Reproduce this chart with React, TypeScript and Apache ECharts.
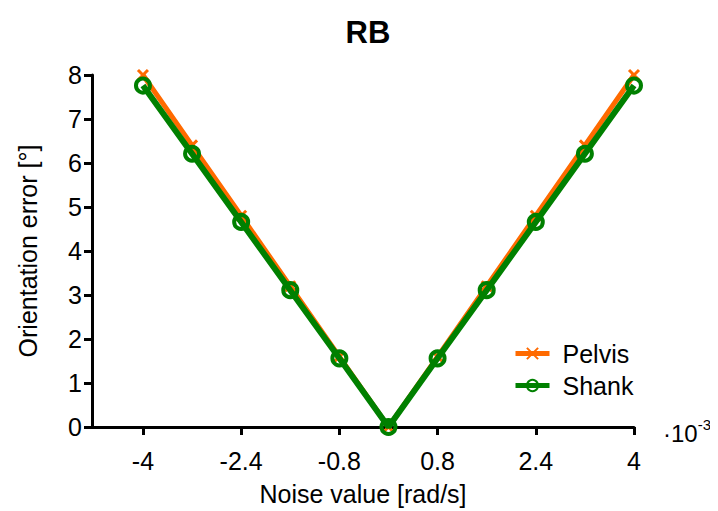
import React, { useEffect, useRef } from "react";
import * as echarts from "echarts";

const noiseValues = [-4, -3.2, -2.4, -1.6, -0.8, 0, 0.8, 1.6, 2.4, 3.2, 4];
const pelvisError = [8.0, 6.4, 4.8, 3.2, 1.6, 0, 1.6, 3.2, 4.8, 6.4, 8.0];
const shankError = [7.76, 6.21, 4.66, 3.11, 1.56, 0, 1.56, 3.11, 4.66, 6.21, 7.76];
const xTickValues = [-4, -2.4, -0.8, 0.8, 2.4, 4];

const ORANGE = "#FF6A00";
const GREEN = "#008000";
const FONT = "Liberation Sans";
const FS = 25;

export default function App() {
  const ref = useRef<HTMLDivElement>(null);
  useEffect(() => {
    if (!ref.current) return;
    const chart = echarts.init(ref.current, undefined, { renderer: "svg" });
    chart.setOption({
      animation: false,
      backgroundColor: "#fff",
      title: {
        text: "RB",
        left: 363,
        top: 12,
        textAlign: "center",
        textStyle: { fontFamily: FONT, fontSize: 31, fontWeight: "bold", color: "#000" },
      },
      legend: {
        left: 508,
        top: 336,
        orient: "vertical",
        itemWidth: 34,
        itemHeight: 14,
        itemGap: 7,
        textStyle: { fontFamily: FONT, fontSize: FS, color: "#000", padding: [0, 0, 0, 8] },
        lineStyle: { width: 5 },
        data: ["Pelvis", "Shank"],
      },
      grid: { left: 92, right: 84, top: 75, bottom: 83 },
      xAxis: {
        type: "value",
        min: -4.83,
        max: 4,
        name: "Noise value [rad/s]",
        nameLocation: "middle",
        nameGap: 54,
        nameTextStyle: { fontFamily: FONT, fontSize: FS, color: "#000" },
        axisLine: { show: true, onZero: false, lineStyle: { color: "#000", width: 3 } },
        axisTick: { show: true, length: 8, lineStyle: { color: "#000", width: 3 }, customValues: xTickValues },
        axisLabel: { fontFamily: FONT, fontSize: FS, color: "#000", margin: 21, customValues: xTickValues },
        splitLine: { show: false },
      },
      yAxis: {
        type: "value",
        min: 0,
        max: 8,
        interval: 1,
        name: "Orientation error [°]",
        nameLocation: "middle",
        nameGap: 52,
        nameTextStyle: { fontFamily: FONT, fontSize: FS, color: "#000" },
        axisLine: { show: true, onZero: false, lineStyle: { color: "#000", width: 3 } },
        axisTick: { show: true, length: 8, lineStyle: { color: "#000", width: 3 } },
        axisLabel: { fontFamily: FONT, fontSize: FS, color: "#000", margin: 10 },
        splitLine: { show: false },
      },
      graphic: [
        {
          type: "text",
          left: 663,
          top: 417,
          style: {
            text: "{a|·10}{b|-3}",
            rich: {
              a: { fontFamily: FONT, fontSize: 24, fill: "#000", verticalAlign: "bottom" },
              b: { fontFamily: FONT, fontSize: 15, fill: "#000", verticalAlign: "top", padding: [0, 0, 13, 0] },
            },
          },
        },
      ],
      series: [
        {
          name: "Pelvis",
          type: "line",
          data: noiseValues.map((x, i) => [x, pelvisError[i]]),
          symbol: "path://M0,0 L10,10 M10,0 L0,10",
          symbolSize: 10,
          lineStyle: { color: ORANGE, width: 5 },
          itemStyle: { color: ORANGE, borderColor: ORANGE, borderWidth: 3 },
          z: 2,
        },
        {
          name: "Shank",
          type: "line",
          data: noiseValues.map((x, i) => [x, shankError[i]]),
          symbol: "circle",
          symbolSize: 14,
          lineStyle: { color: GREEN, width: 6 },
          itemStyle: { color: "rgba(0,0,0,0)", borderColor: GREEN, borderWidth: 4 },
          z: 3,
        },
      ],
    });
    return () => chart.dispose();
  }, []);
  return <div ref={ref} style={{ width: 718, height: 511, marginLeft: -8, marginTop: -8 }} />;
}
